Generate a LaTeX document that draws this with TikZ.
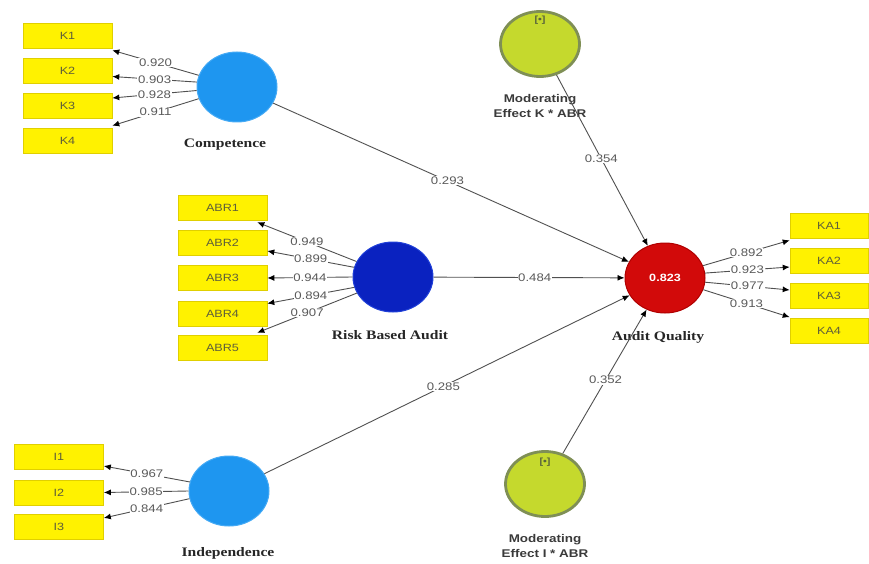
\documentclass[tikz,border=0pt]{standalone}
\usepackage{fontspec}
\usetikzlibrary{shapes.geometric,arrows.meta,calc}
\newfontfamily\numfont[FakeStretch=1.2]{Liberation Sans}
\newfontfamily\lvfont[FakeStretch=1.2]{Liberation Serif}
\definecolor{boxyellow}{HTML}{FFF200}
\definecolor{boxline}{HTML}{E0CF00}
\definecolor{boxtxt}{HTML}{5F5F3A}
\definecolor{numgray}{HTML}{5A5A5A}
\definecolor{linegray}{HTML}{505050}
\definecolor{compblue}{HTML}{1E96F0}
\definecolor{compline}{HTML}{45AAF5}
\definecolor{rbablue}{HTML}{0A22C0}
\definecolor{rbaline}{HTML}{2040D8}
\definecolor{aqred}{HTML}{D20A0A}
\definecolor{aqline}{HTML}{B00000}
\definecolor{modfill}{HTML}{C5D92D}
\definecolor{modline}{HTML}{7F8F55}
\definecolor{modtxt}{HTML}{3A3A3A}
\begin{document}
\begin{tikzpicture}[x=1pt,y=-1pt,
  ind/.style={draw=boxline, line width=0.6pt, fill=boxyellow, minimum width=89pt, minimum height=25pt, inner sep=0pt, font=\numfont\fontsize{10.5}{12}\selectfont, text=boxtxt},
  lv/.style={ellipse, minimum width=80pt, minimum height=70pt, inner sep=0pt, line width=1pt},
  modlv/.style={ellipse, draw=modline, fill=modfill, line width=2.8pt, minimum width=79pt, minimum height=65pt, inner sep=0pt},
  lvname/.style={font=\lvfont\bfseries\fontsize{13}{15}\selectfont, text=black!85, inner sep=1pt},
  modname/.style={font=\numfont\bfseries\fontsize{11.2}{15}\selectfont, text=modtxt, align=center, inner sep=1pt},
  modmark/.style={font=\numfont\bfseries\fontsize{9}{10}\selectfont, text=modline!70!black, inner sep=0pt},
  load/.style={font=\numfont\fontsize{11}{13}\selectfont, text=numgray, fill=white, inner sep=0.6pt},
  ld/.style={draw=linegray, line width=0.9pt, -{Latex[length=7pt,width=6pt,color=black]}}]
\useasboundingbox (0,0) rectangle (869,564);

% Competence block
\node[ind] (K1) at (67.5,35.5) {K1};
\node[ind] (K2) at (67.5,70.5) {K2};
\node[ind] (K3) at (67.5,106) {K3};
\node[ind] (K4) at (67.5,141) {K4};
\node[lv, fill=compblue, draw=compline] (comp) at (237,87) {};
\node[lvname] (compn) at (225,145) {Competence};

% Risk Based Audit block
\node[ind] (A1) at (222.5,207.5) {ABR1};
\node[ind] (A2) at (222.5,242.5) {ABR2};
\node[ind] (A3) at (222.5,278) {ABR3};
\node[ind] (A4) at (222.5,313.5) {ABR4};
\node[ind] (A5) at (222.5,348) {ABR5};
\node[lv, fill=rbablue, draw=rbaline] (rba) at (393,277) {};
\node[lvname] (rban) at (390,335) {Risk Based Audit};

% Independence block
\node[ind] (I1) at (59,457) {I1};
\node[ind] (I2) at (59,492.5) {I2};
\node[ind] (I3) at (59,527) {I3};
\node[lv, fill=compblue, draw=compline] (indep) at (229,491) {};
\node[lvname] (indepn) at (228,553) {Independence};

% Audit Quality block
\node[lv, fill=aqred, draw=aqline, text=white, font=\numfont\bfseries\fontsize{10.5}{12}\selectfont] (aq) at (665,278) {0.823};
\node[lvname] (aqn) at (658,337) {Audit Quality};
\node[ind, minimum width=78pt] (KA1) at (829,225.5) {KA1};
\node[ind, minimum width=78pt] (KA2) at (829,260.5) {KA2};
\node[ind, minimum width=78pt] (KA3) at (829,296) {KA3};
\node[ind, minimum width=78pt] (KA4) at (829,331) {KA4};

% Moderating effects
\node[modlv] (modk) at (540,44) {};
\node[modmark] (modkm) at (540,20) {[•]};
\node[modname] (modkn) at (540,106) {Moderating\\Effect K * ABR};
\node[modlv] (modi) at (545,484) {};
\node[modmark] (modim) at (545,462) {[•]};
\node[modname] (modin) at (545,546) {Moderating\\Effect I * ABR};

% Outer loadings: Competence
\draw[ld] (comp.163) -- node[load]{0.920} ([yshift=-2pt]K1.south east);
\draw[ld] (comp.173) -- node[load]{0.903} ([yshift=-6pt]K2.east);
\draw[ld] (comp.185) -- node[load]{0.928} ([yshift=8pt]K3.east);
\draw[ld] (comp.197) -- node[load]{0.911} ([yshift=2.5pt]K4.north east);

% Outer loadings: Risk Based Audit
\draw[ld] (rba.157) -- node[load]{0.949} ([xshift=-10pt,yshift=-2pt]A1.south east);
\draw[ld] (rba.166) -- node[load]{0.899} ([yshift=-8.5pt]A2.east);
\draw[ld] (rba.180) -- node[load]{0.944} (A3.east);
\draw[ld] (rba.195) -- node[load]{0.894} ([yshift=10pt]A4.east);
\draw[ld] (rba.204) -- node[load]{0.907} ([xshift=-10pt,yshift=2.5pt]A5.north east);

% Outer loadings: Independence
\draw[ld] (indep.167) -- node[load]{0.967} ([yshift=-9pt]I1.east);
\draw[ld] (indep.180) -- node[load]{0.985} (I2.east);
\draw[ld] (indep.191) -- node[load]{0.844} ([yshift=9pt]I3.east);

% Outer loadings: Audit Quality
\draw[ld] (aq.18) -- node[load]{0.892} ([yshift=-2pt]KA1.south west);
\draw[ld] (aq.7) -- node[load]{0.923} ([yshift=-6.5pt]KA2.west);
\draw[ld] (aq.-6) -- node[load]{0.977} ([yshift=6pt]KA3.west);
\draw[ld] (aq.-17) -- node[load]{0.913} ([yshift=1pt]KA4.north west);

% Inner paths
\draw[ld] (comp) -- node[load,pos=0.49]{0.293} (aq);
\draw[ld] (rba) -- node[load,pos=0.53]{0.484} (aq);
\draw[ld] (indep) -- node[load,pos=0.49]{0.285} (aq);
\draw[ld] (modk) -- node[load,pos=0.49]{0.354} (aq);
\draw[ld] (modi) -- node[load,pos=0.51]{0.352} (aq);
\end{tikzpicture}
\end{document}
